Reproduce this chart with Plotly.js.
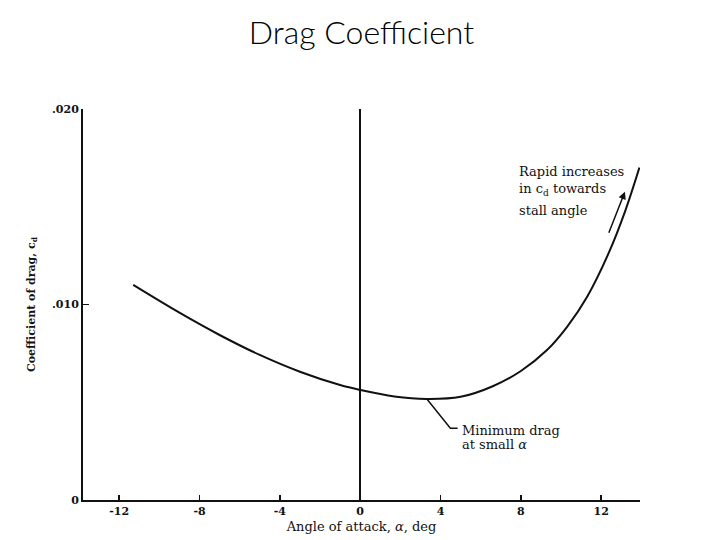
<!DOCTYPE html>
<html>
<head>
<meta charset="utf-8">
<script src="https://cdn.plot.ly/plotly-3.0.1.min.js"></script>
<style>html,body{margin:0;padding:0;background:#fff;}#chart{width:720px;height:540px;}</style>
</head>
<body>
<div id="chart"></div>
<script>
// Data
const alphaDeg = [-11.3, -9, -7, -5, -3, -1, 0, 1.7, 3.3, 5, 6.6, 8, 9.3, 10.3, 11.3, 12.4, 13.2, 13.9];
const dragCoef = [0.0110, 0.00958, 0.00844, 0.00742, 0.00656, 0.00588, 0.00563, 0.00530, 0.00517, 0.00528, 0.00582, 0.00660, 0.00767, 0.00886, 0.0104, 0.0127, 0.0148, 0.0170];
const xTickVals = [-12, -8, -4, 0, 4, 8, 12];
const xTickText = ['-12', '-8', '-4', '0', '4', '8', '12'];
const yTickVals = [0, 0.010, 0.020];
const yTickText = ['0', '.010', '.020'];

const serif = 'DejaVu Serif, Liberation Serif, serif';
const ink = '#111';

const trace = {
  x: alphaDeg, y: dragCoef, type: 'scatter', mode: 'lines',
  line: {color: ink, width: 2, shape: 'spline', smoothing: 1},
  hoverinfo: 'skip', showlegend: false
};

const layout = {
  width: 720, height: 540,
  margin: {l: 83, r: 80, t: 109, b: 40},
  paper_bgcolor: '#fff', plot_bgcolor: '#fff',
  title: {text: 'Drag Coefficient', x: 0.5, xref: 'paper', y: 0.94, yref: 'container', yanchor: 'middle',
          font: {family: 'Lato, Noto Sans, sans-serif', size: 32, color: '#000', weight: 300}},
  xaxis: {
    range: [-13.8, 13.93], showgrid: false, zeroline: true, zerolinecolor: ink, zerolinewidth: 1.5,
    showline: true, linecolor: ink, linewidth: 2, mirror: false,
    ticks: 'inside', ticklen: 5, tickwidth: 1.5, tickcolor: ink,
    tickvals: xTickVals, ticktext: xTickText,
    tickfont: {family: serif, size: 11, color: ink, weight: 'bold'},
    title: {text: 'Angle of attack, <i>α</i>, deg', standoff: 5, font: {family: serif, size: 13, color: ink}},
    fixedrange: true
  },
  yaxis: {
    range: [0, 0.020], showgrid: false, zeroline: false,
    showline: true, linecolor: ink, linewidth: 2,
    ticks: 'inside', ticklen: 6, tickwidth: 1.5, tickcolor: ink,
    tickvals: yTickVals, ticktext: yTickText,
    tickfont: {family: serif, size: 11, color: ink, weight: 'bold'},
    title: {text: 'Coefficient of drag, c<sub>d</sub>', standoff: 14, font: {family: serif, size: 11, color: ink, weight: 'bold'}},
    fixedrange: true
  },
  shapes: [
    {type: 'path', xref: 'x', yref: 'y', path: 'M 3.32 0.00517 L 4.49 0.00367 L 4.85 0.00367',
     line: {color: ink, width: 1.5}}
  ],
  annotations: [
    {x: 7.8, y: 0.01679, xref: 'x', yref: 'y', xanchor: 'left', yanchor: 'middle', showarrow: false,
     text: 'Rapid increases', font: {family: serif, size: 13, color: ink}},
    {x: 7.8, y: 0.01586, xref: 'x', yref: 'y', xanchor: 'left', yanchor: 'middle', showarrow: false,
     text: 'in c<sub>d</sub> towards', font: {family: serif, size: 13, color: ink}},
    {x: 7.8, y: 0.01483, xref: 'x', yref: 'y', xanchor: 'left', yanchor: 'middle', showarrow: false,
     text: 'stall angle', font: {family: serif, size: 13, color: ink}},
    {x: 13.18, y: 0.01577, xref: 'x', yref: 'y', ax: 12.35, ay: 0.01359, axref: 'x', ayref: 'y',
     showarrow: true, arrowhead: 2, arrowsize: 1, arrowwidth: 1.5, arrowcolor: ink, text: ''},
    {x: 4.98, y: 0.00358, xref: 'x', yref: 'y', xanchor: 'left', yanchor: 'middle', showarrow: false,
     text: 'Minimum drag', font: {family: serif, size: 13, color: ink}},
    {x: 4.98, y: 0.00286, xref: 'x', yref: 'y', xanchor: 'left', yanchor: 'middle', showarrow: false,
     text: 'at small <i>α</i>', font: {family: serif, size: 13, color: ink}}
  ]
};

Plotly.newPlot('chart', [trace], layout, {displayModeBar: false, staticPlot: true});
</script>
</body>
</html>
